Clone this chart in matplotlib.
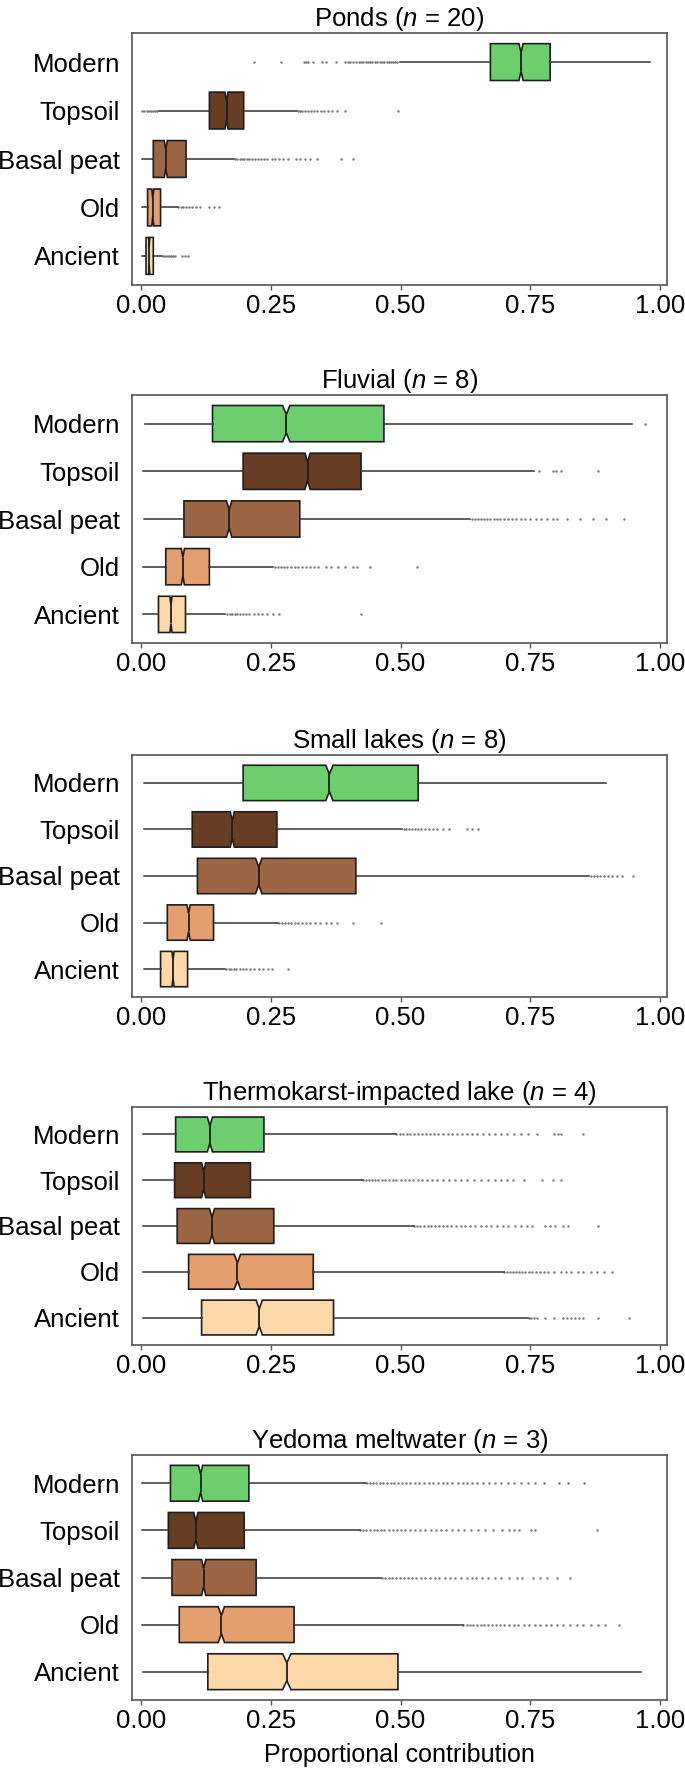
import matplotlib
matplotlib.use("Agg")
import matplotlib.pyplot as plt

plt.rcParams['font.family'] = ['Liberation Sans', 'DejaVu Sans']
plt.rcParams['mathtext.fontset'] = 'custom'
plt.rcParams['mathtext.rm'] = 'Liberation Sans'
plt.rcParams['mathtext.it'] = 'Liberation Sans:italic'

# panels, top to bottom
panels = ['Ponds', 'Fluvial', 'Small lakes', 'Thermokarst-impacted lake', 'Yedoma meltwater']
n_sites = [20, 8, 8, 4, 3]
sources = ['Modern', 'Topsoil', 'Basal peat', 'Old', 'Ancient']
colours = ['#6cce6c', '#673e24', '#9c6543', '#e59e6e', '#fdd9aa']

# box stats per panel, in source order
whislo = [[0.499, 0.035, 0.003, 0.002, 0.003],
          [0.008, 0.005, 0.006, 0.005, 0.005],
          [0.006, 0.006, 0.006, 0.006, 0.006],
          [0.004, 0.004, 0.004, 0.004, 0.004],
          [0.003, 0.003, 0.003, 0.003, 0.004]]
q1 = [[0.673, 0.132, 0.024, 0.013, 0.010],
      [0.138, 0.197, 0.083, 0.048, 0.034],
      [0.197, 0.099, 0.109, 0.051, 0.038],
      [0.067, 0.065, 0.070, 0.092, 0.117],
      [0.057, 0.053, 0.060, 0.074, 0.129]]
med = [[0.732, 0.165, 0.048, 0.023, 0.016],
       [0.280, 0.321, 0.170, 0.081, 0.058],
       [0.363, 0.176, 0.227, 0.092, 0.062],
       [0.133, 0.121, 0.137, 0.186, 0.228],
       [0.115, 0.106, 0.121, 0.155, 0.281]]
q3 = [[0.788, 0.198, 0.087, 0.038, 0.024],
      [0.468, 0.424, 0.306, 0.132, 0.086],
      [0.534, 0.262, 0.414, 0.140, 0.090],
      [0.237, 0.211, 0.256, 0.332, 0.371],
      [0.208, 0.199, 0.222, 0.295, 0.495]]
whishi = [[0.980, 0.301, 0.180, 0.071, 0.041],
          [0.946, 0.757, 0.633, 0.255, 0.163],
          [0.896, 0.503, 0.863, 0.265, 0.163],
          [0.491, 0.427, 0.525, 0.699, 0.746],
          [0.434, 0.421, 0.463, 0.620, 0.962]]
notch = [[0.004, 0.003, 0.003, 0.002, 0.001],
         [0.007, 0.005, 0.005, 0.003, 0.002],
         [0.007, 0.004, 0.006, 0.003, 0.002],
         [0.005, 0.004, 0.005, 0.006, 0.006],
         [0.004, 0.004, 0.004, 0.006, 0.008]]

fliers = [
    # Ponds
    [[0.217, 0.270, 0.314, 0.318, 0.322, 0.331, 0.348, 0.356, 0.375, 0.394, 0.398, 0.403, 0.408,
      0.414, 0.420, 0.424, 0.428, 0.433, 0.437, 0.442, 0.446, 0.451, 0.455, 0.460, 0.464, 0.468,
      0.473, 0.477, 0.482, 0.486, 0.490, 0.494],
     [0.003, 0.007, 0.011, 0.015, 0.019, 0.023, 0.027, 0.031, 0.302, 0.306, 0.311, 0.316, 0.321,
      0.327, 0.333, 0.340, 0.346, 0.353, 0.360, 0.368, 0.377, 0.394, 0.495],
     [0.181, 0.186, 0.190, 0.195, 0.199, 0.204, 0.209, 0.214, 0.219, 0.225, 0.231, 0.237, 0.243,
      0.252, 0.259, 0.266, 0.274, 0.283, 0.298, 0.307, 0.316, 0.325, 0.339, 0.385, 0.409],
     [0.072, 0.077, 0.082, 0.087, 0.093, 0.099, 0.106, 0.113, 0.132, 0.140, 0.150],
     [0.042, 0.046, 0.050, 0.054, 0.058, 0.062, 0.066, 0.079, 0.085, 0.090]],
    # Fluvial
    [[0.971],
     [0.767, 0.793, 0.800, 0.809, 0.881],
     [0.637, 0.643, 0.649, 0.655, 0.661, 0.667, 0.673, 0.679, 0.686, 0.692, 0.699, 0.706, 0.714,
      0.722, 0.731, 0.740, 0.750, 0.760, 0.771, 0.782, 0.793, 0.801, 0.820, 0.846, 0.870, 0.896, 0.931],
     [0.258, 0.264, 0.270, 0.276, 0.282, 0.289, 0.296, 0.303, 0.311, 0.318, 0.326, 0.334, 0.342,
      0.356, 0.367, 0.380, 0.394, 0.409, 0.417, 0.442, 0.531],
     [0.166, 0.171, 0.176, 0.181, 0.186, 0.191, 0.197, 0.203, 0.209, 0.217, 0.226, 0.234, 0.243,
      0.254, 0.266, 0.424]],
    # Small lakes
    [[],
     [0.506, 0.511, 0.516, 0.522, 0.528, 0.534, 0.540, 0.547, 0.554, 0.562, 0.570, 0.581, 0.593,
      0.627, 0.638, 0.650],
     [0.867, 0.872, 0.878, 0.884, 0.891, 0.899, 0.908, 0.917, 0.926, 0.947],
     [0.266, 0.272, 0.278, 0.284, 0.290, 0.296, 0.303, 0.310, 0.318, 0.326, 0.335, 0.345, 0.356,
      0.367, 0.378, 0.408, 0.463],
     [0.164, 0.169, 0.174, 0.179, 0.184, 0.190, 0.196, 0.203, 0.210, 0.218, 0.227, 0.236, 0.245,
      0.252, 0.284]],
    # Thermokarst-impacted lake
    [[0.492, 0.498, 0.505, 0.512, 0.519, 0.526, 0.534, 0.541, 0.549, 0.557, 0.565, 0.573, 0.582,
      0.591, 0.600, 0.609, 0.618, 0.628, 0.638, 0.648, 0.659, 0.670, 0.681, 0.693, 0.705, 0.718,
      0.731, 0.746, 0.763, 0.796, 0.803, 0.809, 0.852],
     [0.428, 0.433, 0.439, 0.445, 0.451, 0.457, 0.464, 0.471, 0.478, 0.485, 0.492, 0.500, 0.508,
      0.516, 0.524, 0.533, 0.542, 0.551, 0.561, 0.571, 0.582, 0.593, 0.604, 0.616, 0.628, 0.641,
      0.654, 0.669, 0.682, 0.694, 0.705, 0.717, 0.737, 0.773, 0.793, 0.809],
     [0.526, 0.532, 0.538, 0.545, 0.552, 0.559, 0.566, 0.574, 0.582, 0.590, 0.598, 0.607, 0.616,
      0.625, 0.634, 0.644, 0.654, 0.664, 0.675, 0.686, 0.697, 0.707, 0.720, 0.732, 0.743, 0.754,
      0.779, 0.787, 0.797, 0.812, 0.822, 0.881],
     [0.700, 0.705, 0.710, 0.716, 0.722, 0.728, 0.734, 0.740, 0.747, 0.754, 0.761, 0.768, 0.776,
      0.784, 0.796, 0.809, 0.818, 0.828, 0.841, 0.852, 0.866, 0.878, 0.891, 0.907],
     [0.747, 0.752, 0.757, 0.763, 0.779, 0.796, 0.812, 0.820, 0.828, 0.836, 0.844, 0.852, 0.880, 0.939]],
    # Yedoma meltwater
    [[0.435, 0.441, 0.447, 0.453, 0.460, 0.467, 0.474, 0.481, 0.488, 0.495, 0.503, 0.511, 0.519,
      0.527, 0.536, 0.545, 0.554, 0.563, 0.572, 0.581, 0.590, 0.600, 0.610, 0.620, 0.628, 0.638,
      0.648, 0.659, 0.670, 0.682, 0.694, 0.706, 0.718, 0.731, 0.745, 0.759, 0.776, 0.806, 0.822, 0.854],
     [0.422, 0.428, 0.434, 0.441, 0.448, 0.455, 0.462, 0.469, 0.477, 0.485, 0.493, 0.501, 0.509,
      0.518, 0.527, 0.537, 0.547, 0.558, 0.569, 0.577, 0.588, 0.599, 0.611, 0.623, 0.636, 0.649,
      0.663, 0.678, 0.696, 0.708, 0.718, 0.729, 0.751, 0.759, 0.879],
     [0.464, 0.470, 0.477, 0.484, 0.491, 0.498, 0.506, 0.514, 0.522, 0.530, 0.539, 0.548, 0.557,
      0.566, 0.575, 0.585, 0.595, 0.605, 0.616, 0.627, 0.637, 0.645, 0.657, 0.669, 0.681, 0.694,
      0.708, 0.725, 0.734, 0.755, 0.769, 0.782, 0.801, 0.827],
     [0.621, 0.627, 0.633, 0.640, 0.647, 0.654, 0.661, 0.668, 0.676, 0.684, 0.692, 0.700, 0.709,
      0.718, 0.727, 0.737, 0.747, 0.758, 0.769, 0.780, 0.789, 0.801, 0.813, 0.826, 0.839, 0.852,
      0.866, 0.880, 0.894, 0.920],
     []],
]

xticks = [0.0, 0.25, 0.5, 0.75, 1.0]
xticklabels = ['0.00', '0.25', '0.50', '0.75', '1.00']

# panel placement in pixels (top, bottom) of the 685x1776 figure
W, H = 685, 1776
tops = [33, 395, 755, 1107, 1455]
bottoms = [285, 643, 997, 1345, 1700]
left_px, right_px = 132, 667

fig = plt.figure(figsize=(W / 100, H / 100), dpi=100)

for p in range(len(panels)):
    ax = fig.add_axes([left_px / W, 1 - bottoms[p] / H,
                       (right_px - left_px) / W, (bottoms[p] - tops[p]) / H])
    stats = []
    for i in range(len(sources)):
        stats.append(dict(label=sources[i], med=med[p][i], q1=q1[p][i], q3=q3[p][i],
                          whislo=whislo[p][i], whishi=whishi[p][i],
                          cilo=med[p][i] - notch[p][i], cihi=med[p][i] + notch[p][i],
                          fliers=fliers[p][i]))
    pos = list(range(len(sources), 0, -1))
    bp = ax.bxp(stats, positions=pos, vert=False, widths=0.76, shownotches=True,
                showcaps=False, patch_artist=True,
                boxprops=dict(edgecolor='#1e1e1e', linewidth=1.2),
                medianprops=dict(color='#1e1e1e', linewidth=1.3),
                whiskerprops=dict(color='#333333', linewidth=1.1),
                flierprops=dict(marker='o', markersize=1.8, markerfacecolor='#444444',
                                markeredgecolor='none', alpha=0.7))
    for patch, c in zip(bp['boxes'], colours):
        patch.set_facecolor(c)

    ax.set_xlim(-0.017, 1.013)
    ax.set_ylim(0.4, 5.6)
    ax.set_xticks(xticks)
    ax.set_xticklabels(xticklabels)
    ax.tick_params(axis='x', length=3.5, width=1, color='#555555', pad=3, labelsize=18.5)
    ax.tick_params(axis='y', length=0, pad=8.5, labelsize=18.5)
    for s in ax.spines.values():
        s.set_color('#555555')
        s.set_linewidth(1.2)
    ax.set_title(panels[p] + ' ($\\mathit{n}$ = %d)' % n_sites[p], fontsize=18.5, pad=4)

ax.set_xlabel('Proportional contribution', fontsize=18, labelpad=7)

fig.savefig('out.png', dpi=100)
